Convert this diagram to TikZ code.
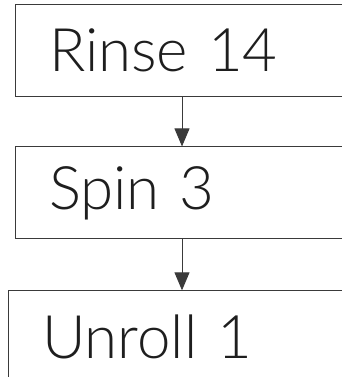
\documentclass[tikz,border=0pt]{standalone}
\usepackage{fontspec}
\setmainfont{Lato}[UprightFont=* Light, WordSpace=0.55]
\usetikzlibrary{arrows.meta, positioning}
\definecolor{cline}{HTML}{3A3A3A}
\definecolor{ctext}{HTML}{1E1E1E}
\tikzset{
  stepbox/.style={draw=cline, line width=0.9pt, minimum height=92pt, text width=#1,
    inner xsep=34pt, inner ysep=0pt, align=left, text=ctext,
    font=\fontsize{60}{70}\selectfont},
  stepbox/.default=266pt,
  arrow/.style={-{Triangle[length=18pt, width=15pt]}, draw=cline, line width=0.9pt},
}
\begin{document}
\begin{tikzpicture}[x=1pt, y=1pt]
  \useasboundingbox (0,0) rectangle (342,377);
  % wash cycle steps
  \node[stepbox] (rinse) at (182,327) {Rinse 14};
  \node[stepbox, below=50pt of rinse] (spin) {Spin 3};
  \node[stepbox=280pt, below=51pt of spin] (unroll) {Unroll 1};
  \draw[arrow] (rinse) -- (spin);
  \draw[arrow] (spin) -- (unroll);
\end{tikzpicture}
\end{document}
